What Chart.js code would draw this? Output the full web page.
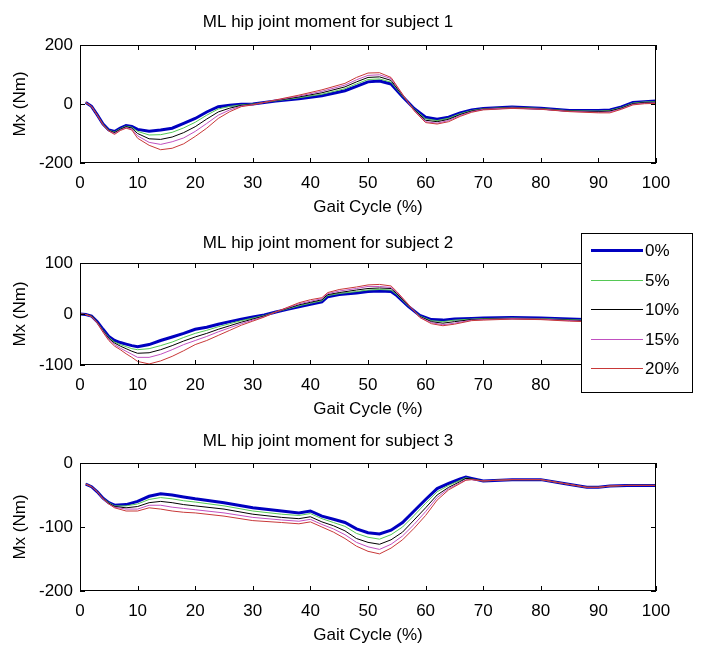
<!DOCTYPE html>
<html>
<head>
<meta charset="utf-8">
<script src="https://cdn.jsdelivr.net/npm/chart.js@4.4.0/dist/chart.umd.min.js"></script>
<style>
body { margin: 0; background: #fff; }
#wrap { position: relative; width: 702px; height: 652px; background: #fff; }
canvas { position: absolute; left: 0; }
</style>
</head>
<body>
<div id="wrap">
  <canvas id="sub1" width="702" height="218" style="top:0px"></canvas>
  <canvas id="sub2" width="702" height="202" style="top:218px"></canvas>
  <canvas id="sub3" width="702" height="232" style="top:420px"></canvas>
</div>
<script>
// series labels (speed increase)
var levels = ['0%', '5%', '10%', '15%', '20%'];
var xTicks = [0, 10, 20, 30, 40, 50, 60, 70, 80, 90, 100];

// subject 1
var gait1 = [1, 2, 3, 4, 5, 6, 7, 8, 9, 10, 12, 14, 16, 18, 20, 22, 24, 26, 28, 30, 34, 38, 42, 46, 48, 50, 52, 54, 56, 58, 60, 62, 64, 66, 68, 70, 75, 80, 85, 90, 92, 94, 96, 98, 100];
var s1_0  = [5, -8, -37, -68, -88, -93, -82, -73, -76, -86, -92, -88, -82, -66, -49, -27, -9, -4, -1, 0, 10, 18, 28, 45, 60, 75, 78, 68, 25, -15, -45, -52, -45, -30, -20, -15, -10, -14, -22, -22, -20, -10, 5, 8, 10];
var s1_5  = [5, -8, -37, -68, -89, -95, -84, -75, -79, -93, -105, -104, -96, -81, -62, -38, -17, -8, -3, 0, 11, 21, 33, 52, 68, 83, 85, 74, 27, -17, -50, -56, -48, -33, -22, -16, -11, -15, -23, -24, -22, -12, 3, 7, 8];
var s1_10 = [5, -8, -37, -69, -90, -97, -86, -77, -82, -100, -118, -120, -112, -97, -77, -51, -27, -14, -5, -1, 12, 24, 38, 58, 75, 90, 92, 80, 29, -19, -55, -60, -52, -36, -24, -17, -12, -16, -24, -26, -24, -14, 1, 5, 6];
var s1_15 = [5, -8, -38, -70, -91, -100, -88, -80, -85, -108, -130, -137, -128, -115, -93, -66, -38, -20, -7, -2, 13, 27, 43, 64, 82, 97, 99, 86, 31, -21, -60, -65, -56, -39, -26, -18, -13, -17, -25, -28, -27, -16, -1, 3, 4];
var s1_20 = [5, -8, -38, -71, -92, -103, -90, -82, -88, -116, -140, -155, -150, -135, -110, -82, -49, -26, -9, -3, 14, 30, 48, 70, 90, 105, 106, 90, 33, -23, -63, -68, -60, -42, -28, -20, -15, -18, -26, -30, -30, -18, -3, 1, 2];

// subject 2
var gait2 = [0, 1, 2, 3, 4, 5, 6, 7, 8, 9, 10, 12, 14, 16, 18, 20, 22, 24, 26, 28, 30, 32, 34, 36, 38, 40, 42, 43, 45, 48, 50, 52, 54, 55, 57, 59, 61, 63, 65, 68, 70, 75, 80, 85, 90, 95, 100];
var s2_0  = [0, -1, -4, -15, -30, -44, -52, -56, -59, -62, -64, -60, -52, -45, -38, -30, -26, -20, -15, -10, -6, -2, 4, 9, 14, 19, 24, 34, 38, 41, 44, 45, 44, 36, 15, -3, -11, -12, -10, -9, -8, -7, -8, -10, -12, -12, -13];
var s2_5  = [0, -1, -4, -16, -32, -46, -55, -60, -64, -68, -70, -68, -62, -55, -46, -38, -32, -25, -19, -13, -8, -3, 4, 10, 16, 21, 26, 36, 40, 44, 47, 48, 47, 38, 16, -4, -13, -15, -12, -10, -9, -8, -9, -11, -13, -13, -14];
var s2_10 = [0, -1, -4, -16, -33, -48, -57, -63, -68, -73, -77, -76, -70, -62, -53, -45, -38, -30, -23, -16, -10, -4, 4, 11, 18, 23, 28, 38, 42, 47, 50, 51, 50, 40, 17, -5, -15, -18, -15, -11, -10, -9, -10, -12, -14, -14, -15];
var s2_15 = [0, -1, -5, -17, -34, -50, -60, -67, -73, -79, -85, -85, -79, -70, -60, -52, -44, -35, -27, -19, -12, -5, 4, 12, 20, 25, 30, 40, 45, 50, 54, 54, 52, 42, 18, -6, -17, -21, -18, -12, -11, -9, -10, -13, -15, -15, -16];
var s2_20 = [0, -1, -5, -18, -36, -52, -63, -70, -78, -85, -93, -98, -92, -83, -72, -60, -52, -42, -32, -22, -14, -6, 4, 13, 22, 28, 32, 42, 48, 53, 57, 58, 55, 44, 19, -7, -19, -23, -20, -13, -12, -10, -11, -14, -16, -16, -17];

// subject 3
var gait3 = [1, 2, 3, 4, 5, 6, 8, 10, 12, 14, 16, 18, 20, 25, 30, 35, 38, 40, 42, 44, 46, 48, 50, 52, 54, 56, 58, 60, 62, 64, 66, 67, 68, 70, 75, 80, 84, 88, 90, 92, 95, 100];
var s3_0  = [-33, -37, -45, -55, -62, -66, -65, -60, -52, -48, -50, -53, -56, -62, -70, -75, -78, -75, -83, -88, -93, -103, -109, -111, -105, -93, -75, -57, -40, -32, -25, -22, -24, -28, -26, -26, -32, -38, -38, -36, -35, -35];
var s3_5  = [-33, -37, -45, -55, -62, -67, -67, -64, -57, -54, -56, -59, -61, -67, -75, -80, -82, -79, -87, -93, -99, -110, -116, -119, -112, -100, -82, -63, -45, -35, -27, -23, -25, -28, -26, -26, -32, -38, -38, -36, -35, -35];
var s3_10 = [-33, -37, -45, -55, -63, -68, -70, -68, -62, -60, -62, -65, -67, -72, -80, -85, -87, -84, -92, -98, -106, -118, -124, -127, -120, -108, -89, -70, -50, -38, -29, -24, -25, -28, -26, -26, -32, -38, -38, -36, -35, -35];
var s3_15 = [-33, -37, -45, -56, -64, -69, -72, -72, -66, -66, -69, -71, -73, -78, -85, -89, -91, -88, -96, -103, -112, -124, -131, -135, -127, -114, -96, -76, -54, -40, -31, -26, -26, -28, -26, -26, -32, -38, -38, -36, -35, -35];
var s3_20 = [-33, -37, -45, -56, -64, -70, -75, -75, -70, -72, -75, -77, -78, -83, -90, -93, -95, -92, -100, -108, -118, -130, -138, -142, -133, -120, -102, -82, -58, -42, -32, -27, -26, -28, -26, -26, -32, -38, -38, -36, -35, -35];

var colors = ['#0000c0', '#55c855', '#000000', '#c050c0', '#c83838'];
var widths = [3, 1, 1, 1, 1];
var FONT = "'Liberation Sans', Arial, sans-serif";
var FS = 17;

// box around the plot + inward ticks (matlab style)
var boxTicks = {
  id: 'boxTicks',
  afterDatasetsDraw: function(chart) {
    var ctx = chart.ctx, a = chart.chartArea;
    var sx = chart.scales.x, sy = chart.scales.y;
    ctx.save();
    ctx.strokeStyle = '#000';
    ctx.lineWidth = 1;
    ctx.beginPath();
    sx.ticks.forEach(function(t) {
      var px = Math.round(sx.getPixelForValue(t.value)) + 0.5;
      ctx.moveTo(px, a.bottom); ctx.lineTo(px, a.bottom - 5);
      ctx.moveTo(px, a.top); ctx.lineTo(px, a.top + 5);
    });
    sy.ticks.forEach(function(t) {
      var py = Math.round(sy.getPixelForValue(t.value)) + 0.5;
      ctx.moveTo(a.left, py); ctx.lineTo(a.left + 5, py);
      ctx.moveTo(a.right, py); ctx.lineTo(a.right - 5, py);
    });
    ctx.stroke();
    ctx.strokeRect(a.left + 0.5, a.top + 0.5, a.right - a.left - 1, a.bottom - a.top - 1);
    ctx.restore();
  }
};

// legend box that sits over the right side of subplot 2
var boxLegend = {
  id: 'boxLegend',
  afterDraw: function(chart) {
    if (!chart.options.plugins.boxLegend.show) return;
    var ctx = chart.ctx;
    var x0 = 581, y0 = 15, w = 111, h = 159;
    ctx.save();
    ctx.fillStyle = '#fff';
    ctx.fillRect(x0, y0, w, h);
    ctx.strokeStyle = '#000';
    ctx.lineWidth = 1;
    ctx.strokeRect(x0 + 0.5, y0 + 0.5, w, h);
    ctx.font = FS + 'px ' + FONT;
    ctx.textBaseline = 'middle';
    ctx.textAlign = 'left';
    chart.data.datasets.forEach(function(ds, i) {
      var y = Math.round(y0 + 17 + i * 29.5) + 0.5;
      ctx.strokeStyle = ds.borderColor;
      ctx.lineWidth = ds.borderWidth;
      ctx.beginPath();
      ctx.moveTo(591, y); ctx.lineTo(643, y);
      ctx.stroke();
      ctx.fillStyle = '#000';
      ctx.fillText(ds.label, 645, y + 1);
    });
    ctx.restore();
  }
};

function makeSub(id, title, xs, series, ymin, ymax, ystep, lay, legend) {
  var datasets = series.map(function(vals, i) {
    return {
      label: levels[i],
      data: xs.map(function(x, k) { return { x: x, y: vals[k] }; }),
      borderColor: colors[i],
      backgroundColor: colors[i],
      borderWidth: widths[i],
      pointRadius: 0,
      tension: 0,
      fill: false,
      order: 4 - i
    };
  });
  return new Chart(document.getElementById(id), {
    type: 'line',
    data: { datasets: datasets },
    options: {
      responsive: false,
      animation: false,
      layout: { padding: { left: 0, right: 46, top: 0, bottom: 0 } },
      plugins: {
        legend: { display: false },
        tooltip: { enabled: false },
        boxLegend: { show: legend },
        title: {
          display: true,
          text: title,
          color: '#000',
          font: { family: FONT, size: FS, weight: 'normal' },
          padding: { top: lay.titleTop, bottom: lay.titleBottom }
        }
      },
      scales: {
        x: {
          type: 'linear',
          min: 0, max: 100,
          afterBuildTicks: function(s) { s.ticks = xTicks.map(function(v) { return { value: v }; }); },
          afterFit: function(s) { s.height = lay.xHeight; },
          grid: { display: false, drawTicks: false },
          border: { display: false },
          ticks: { color: '#000', padding: 10, maxRotation: 0, font: { family: FONT, size: FS } },
          title: {
            display: true, text: 'Gait Cycle (%)', color: '#000',
            font: { family: FONT, size: FS },
            padding: { top: 0, bottom: lay.xTitleBottom }
          }
        },
        y: {
          min: ymin, max: ymax,
          ticks: { stepSize: ystep, color: '#000', padding: 7, font: { family: FONT, size: FS } },
          afterFit: function(s) { s.width = 80; },
          grid: { display: false, drawTicks: false },
          border: { display: false },
          title: {
            display: true, text: 'Mx (Nm)', color: '#000',
            font: { family: FONT, size: FS },
            padding: { top: 10, bottom: 0 }
          }
        }
      }
    },
    plugins: [boxTicks, boxLegend]
  });
}

makeSub('sub1', 'ML hip joint moment for subject 1', gait1,
  [s1_0, s1_5, s1_10, s1_15, s1_20], -200, 200, 200,
  { titleTop: 11.8, titleBottom: 12.8, xHeight: 55, xTitleBottom: 0 }, false);

makeSub('sub2', 'ML hip joint moment for subject 2', gait2,
  [s2_0, s2_5, s2_10, s2_15, s2_20], -100, 100, 100,
  { titleTop: 14.8, titleBottom: 9.8, xHeight: 55, xTitleBottom: 0 }, true);

makeSub('sub3', 'ML hip joint moment for subject 3', gait3,
  [s3_0, s3_5, s3_10, s3_15, s3_20], -200, 0, 100,
  { titleTop: 10.8, titleBottom: 11.8, xHeight: 61, xTitleBottom: 6.8 }, false);
</script>
</body>
</html>
